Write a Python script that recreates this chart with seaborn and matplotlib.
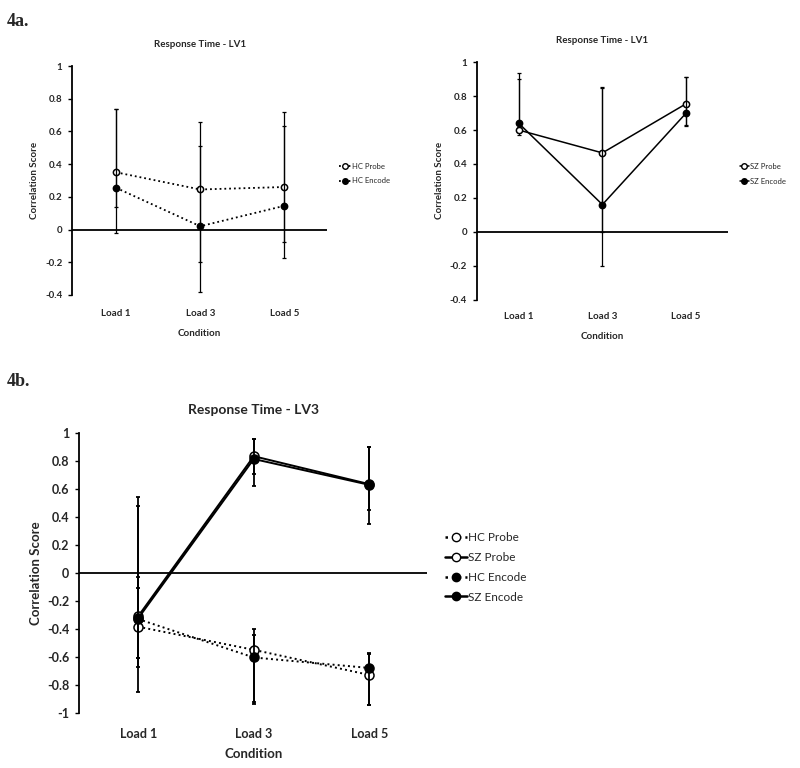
import matplotlib
matplotlib.use("Agg")
import matplotlib.pyplot as plt
import seaborn as sns
import pandas as pd
import numpy as np
from matplotlib.lines import Line2D

# ---- data ----
conditions = ["Load 1", "Load 3", "Load 5"]

# 4a left: healthy controls, LV1
hc_probe_lv1 = [0.35, 0.245, 0.26]
hc_probe_lv1_lo = [-0.02, -0.20, -0.075]
hc_probe_lv1_hi = [0.74, 0.66, 0.72]
hc_encode_lv1 = [0.255, 0.02, 0.145]
hc_encode_lv1_lo = [0.14, -0.38, -0.175]
hc_encode_lv1_hi = [0.74, 0.51, 0.635]

# 4a right: schizophrenia, LV1
sz_probe_lv1 = [0.60, 0.465, 0.755]
sz_probe_lv1_lo = [0.57, 0.0, 0.63]
sz_probe_lv1_hi = [0.90, 0.845, 0.915]
sz_encode_lv1 = [0.64, 0.16, 0.70]
sz_encode_lv1_lo = [0.62, -0.20, 0.625]
sz_encode_lv1_hi = [0.935, 0.855, 0.915]

# 4b: LV3, all groups
hc_probe_lv3 = [-0.385, -0.55, -0.73]
hc_probe_lv3_lo = [-0.67, -0.92, -0.945]
hc_probe_lv3_hi = [-0.03, -0.40, -0.58]
sz_probe_lv3 = [-0.31, 0.835, 0.635]
sz_probe_lv3_lo = [-0.61, 0.71, 0.45]
sz_probe_lv3_hi = [0.48, 0.955, 0.90]
hc_encode_lv3 = [-0.33, -0.605, -0.68]
hc_encode_lv3_lo = [-0.61, -0.935, -0.945]
hc_encode_lv3_hi = [-0.11, -0.445, -0.575]
sz_encode_lv3 = [-0.325, 0.815, 0.63]
sz_encode_lv3_lo = [-0.855, 0.62, 0.35]
sz_encode_lv3_hi = [0.545, 0.955, 0.90]

sns.set_theme(style="white")
plt.rcParams["font.family"] = ["Lato", "DejaVu Sans"]

fig = plt.figure(figsize=(8, 7.68), dpi=100)


def draw_series(ax, vals, lo, hi, filled, dotted, ms, lw, elw, cap):
    x = np.arange(len(conditions))
    vals = np.array(vals)
    yerr = [vals - np.array(lo), np.array(hi) - vals]
    ax.errorbar(x, vals, yerr=yerr, fmt="none", ecolor="black",
                elinewidth=elw, capsize=cap, capthick=elw, zorder=2)
    df = pd.DataFrame({"Condition": conditions, "Score": vals})
    sns.pointplot(data=df, x="Condition", y="Score", order=conditions,
                  color="black", errorbar=None, ax=ax,
                  linestyles=":" if dotted else "-", markers="o",
                  markersize=ms, linewidth=lw,
                  markerfacecolor="black" if filled else "white",
                  markeredgecolor="black", markeredgewidth=1.1)


def style_axes(ax, ylim, yticks, xlim, title, fs_tick, fs_lab, fs_title, pad, lpad):
    ax.set_ylim(*ylim)
    ax.set_xlim(*xlim)
    ax.set_yticks(yticks)
    ax.set_yticklabels([f"{t:g}" for t in yticks], fontsize=fs_tick, fontweight="bold")
    ax.set_xticks(range(len(conditions)))
    ax.set_xticklabels(conditions, fontsize=fs_tick, fontweight="bold")
    for s in ["top", "right", "bottom"]:
        ax.spines[s].set_visible(False)
    ax.spines["left"].set_color("black")
    ax.spines["left"].set_linewidth(1.3)
    ax.axhline(0, color="black", lw=1.3, zorder=1)
    ax.tick_params(axis="y", which="both", left=True, length=3, width=1, color="black", pad=4)
    ax.tick_params(axis="x", bottom=False, pad=pad)
    ax.set_xlabel("Condition", fontsize=fs_lab, fontweight="bold", labelpad=lpad)
    ax.set_ylabel("Correlation Score", fontsize=fs_lab, fontweight="bold")
    ax.set_title(title, fontsize=fs_title, fontweight="bold", pad=14)
    ax.grid(False)


# ---- 4a left ----
ax1 = fig.add_axes([0.090, 0.616, 0.319, 0.298])
draw_series(ax1, hc_probe_lv1, hc_probe_lv1_lo, hc_probe_lv1_hi, False, True, 4.5, 1.3, 0.9, 1.2)
draw_series(ax1, hc_encode_lv1, hc_encode_lv1_lo, hc_encode_lv1_hi, True, True, 4.5, 1.3, 0.9, 1.2)
style_axes(ax1, (-0.4, 1.0), [-0.4, -0.2, 0, 0.2, 0.4, 0.6, 0.8, 1], (-0.524, 2.51),
           "Response Time - LV1", 7, 7, 7, 4, 8)
h1 = [Line2D([], [], color="black", ls=":", lw=1.3, marker="o", ms=4, mfc="white", mec="black"),
      Line2D([], [], color="black", ls=":", lw=1.3, marker="o", ms=4, mfc="black", mec="black")]
ax1.legend(h1, ["HC Probe", "HC Encode"], loc="center left", bbox_to_anchor=(1.02, 0.53),
           frameon=False, fontsize=5.5, handlelength=1.6, handletextpad=0.1, labelspacing=1.0)

# ---- 4a right ----
ax2 = fig.add_axes([0.596, 0.610, 0.314, 0.309])
draw_series(ax2, sz_probe_lv1, sz_probe_lv1_lo, sz_probe_lv1_hi, False, False, 4.5, 1.1, 0.9, 1.2)
draw_series(ax2, sz_encode_lv1, sz_encode_lv1_lo, sz_encode_lv1_hi, True, False, 4.5, 1.1, 0.9, 1.2)
style_axes(ax2, (-0.4, 1.0), [-0.4, -0.2, 0, 0.2, 0.4, 0.6, 0.8, 1], (-0.50, 2.5),
           "Response Time - LV1", 7, 7, 7, 3, 8)
h2 = [Line2D([], [], color="black", ls="-", lw=1.1, marker="o", ms=4, mfc="white", mec="black"),
      Line2D([], [], color="black", ls="-", lw=1.1, marker="o", ms=4, mfc="black", mec="black")]
ax2.legend(h2, ["SZ Probe", "SZ Encode"], loc="center left", bbox_to_anchor=(1.02, 0.53),
           frameon=False, fontsize=5.5, handlelength=1.2, handletextpad=0.1, labelspacing=1.0)

# ---- 4b ----
ax3 = fig.add_axes([0.099, 0.072, 0.435, 0.364])
draw_series(ax3, hc_probe_lv3, hc_probe_lv3_lo, hc_probe_lv3_hi, False, True, 6.5, 1.4, 1.3, 1.5)
draw_series(ax3, hc_encode_lv3, hc_encode_lv3_lo, hc_encode_lv3_hi, True, True, 6.5, 1.4, 1.3, 1.5)
draw_series(ax3, sz_probe_lv3, sz_probe_lv3_lo, sz_probe_lv3_hi, False, False, 6.5, 1.4, 1.3, 1.5)
draw_series(ax3, sz_encode_lv3, sz_encode_lv3_lo, sz_encode_lv3_hi, True, False, 6.5, 1.4, 1.3, 1.5)
style_axes(ax3, (-1.0, 1.0), [-1, -0.8, -0.6, -0.4, -0.2, 0, 0.2, 0.4, 0.6, 0.8, 1],
           (-0.51, 2.5), "Response Time - LV3", 9, 9.5, 10, 5, 6)
h3 = [Line2D([], [], color="black", ls=":", lw=1.8, marker="o", ms=6, mfc="white", mec="black"),
      Line2D([], [], color="black", ls="-", lw=1.8, marker="o", ms=6, mfc="white", mec="black"),
      Line2D([], [], color="black", ls=":", lw=1.8, marker="o", ms=6, mfc="black", mec="black"),
      Line2D([], [], color="black", ls="-", lw=1.8, marker="o", ms=6, mfc="black", mec="black")]
ax3.legend(h3, ["HC Probe", "SZ Probe", "HC Encode", "SZ Encode"], loc="center left",
           bbox_to_anchor=(1.02, 0.52), frameon=False, fontsize=8.5, handlelength=1.9,
           handletextpad=0.1, labelspacing=0.75)

# panel labels
fig.text(0.008, 0.972, "4a.", fontsize=13, fontweight="bold", family="Liberation Serif", va="center")
fig.text(0.008, 0.503, "4b.", fontsize=13, fontweight="bold", family="Liberation Serif", va="center")

fig.savefig("out.png", dpi=100, facecolor="white")
